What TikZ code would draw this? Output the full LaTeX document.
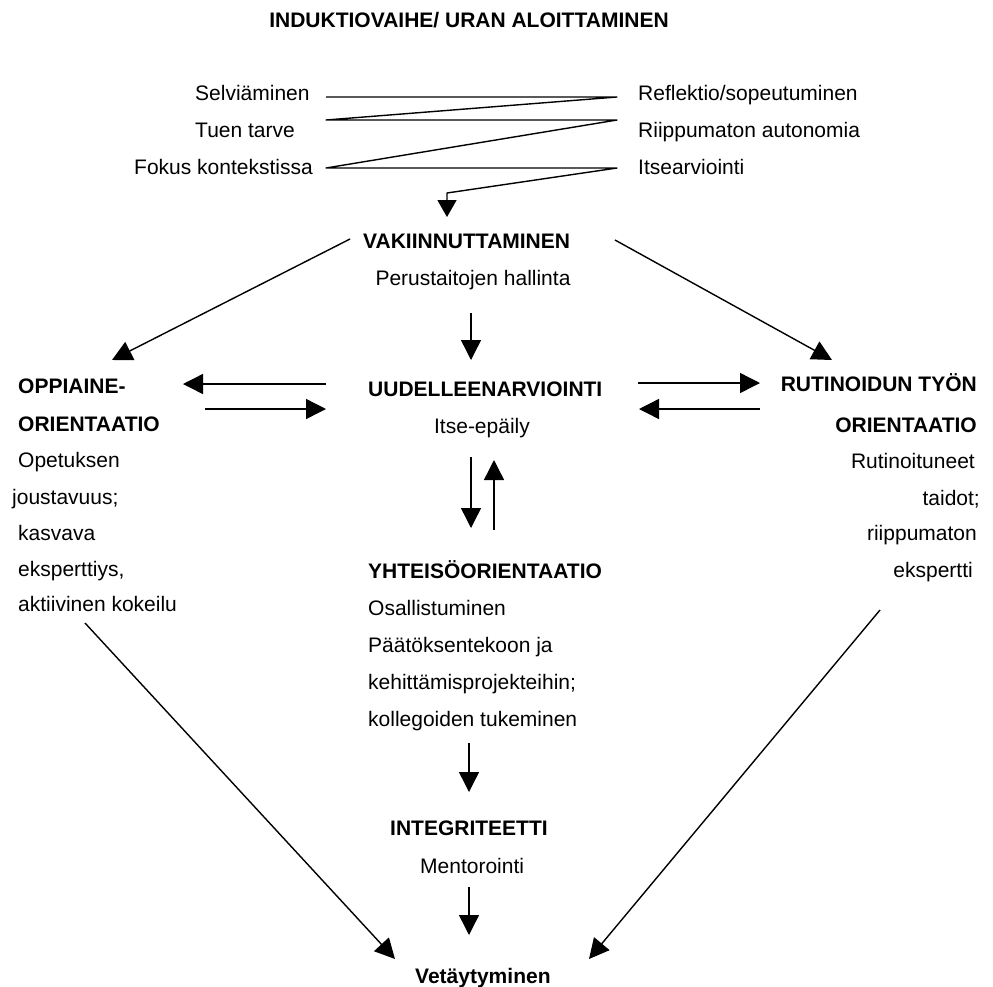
\documentclass[tikz,border=0pt]{standalone}
\usepackage{fontspec}
\setmainfont{Liberation Sans}
\usetikzlibrary{arrows.meta}
\begin{document}
\begin{tikzpicture}[x=1pt,y=-1pt,
  txt/.style={inner sep=0pt, font=\fontsize{21}{25}\selectfont},
  hd/.style={inner sep=0pt, font=\fontsize{21}{25}\selectfont\bfseries},
  conn/.style={line width=1.4pt, line join=round, -{Triangle[length=20pt,width=20pt]}},
]
\useasboundingbox[fill=white] (0,0) rectangle (993,986);
% title
\node[hd, anchor=base] (title) at (469,27) {INDUKTIOVAIHE/ URAN ALOITTAMINEN};
% induction rows
\node[txt, anchor=base west] (s1) at (195,100) {Selviäminen};
\node[txt, anchor=base west] (s2) at (195,137) {Tuen tarve};
\node[txt, anchor=base east] (s3) at (313,174) {Fokus kontekstissa};
\node[txt, anchor=base west] (r1) at (638,100) {Reflektio/sopeutuminen};
\node[txt, anchor=base west] (r2) at (638,137) {Riippumaton autonomia};
\node[txt, anchor=base west] (r3) at (638,174) {Itsearviointi};
% centre column
\node[hd, anchor=base west] (vak) at (363,248) {VAKIINNUTTAMINEN};
\node[txt, anchor=base] (per) at (473,285) {Perustaitojen hallinta};
\node[hd, anchor=base west] (uud) at (368,396) {UUDELLEENARVIOINTI};
\node[txt, anchor=base] (itse) at (482,433) {Itse-epäily};
\node[hd, anchor=base west] (yht) at (368,578) {YHTEISÖORIENTAATIO};
\node[txt, anchor=base west] (osa) at (368,615) {Osallistuminen};
\node[txt, anchor=base west] (paa) at (368,652) {Päätöksentekoon ja};
\node[txt, anchor=base west] (keh) at (368,689) {kehittämisprojekteihin;};
\node[txt, anchor=base west] (kol) at (368,726) {kollegoiden tukeminen};
\node[hd, anchor=base west] (int) at (390,835) {INTEGRITEETTI};
\node[txt, anchor=base west] (men) at (420,873) {Mentorointi};
\node[hd, anchor=base west] (vet) at (415,983) {Vetäytyminen};
% left column
\node[hd, anchor=base west] (opp1) at (18,393) {OPPIAINE-};
\node[hd, anchor=base west] (opp2) at (18,431) {ORIENTAATIO};
\node[txt, anchor=base west] (ope) at (18,467) {Opetuksen};
\node[txt, anchor=base west] (jou) at (12,504) {joustavuus;};
\node[txt, anchor=base west] (kas) at (18,540) {kasvava};
\node[txt, anchor=base west] (eks) at (18,576) {eksperttiys,};
\node[txt, anchor=base west] (akt) at (18,611) {aktiivinen kokeilu};
% right column
\node[hd, anchor=base east] (rut1) at (977,391) {RUTINOIDUN TYÖN};
\node[hd, anchor=base east] (rut2) at (977,432) {ORIENTAATIO};
\node[txt, anchor=base east] (rut3) at (975,468) {Rutinoituneet};
\node[txt, anchor=base east] (rut4) at (980,505) {taidot;};
\node[txt, anchor=base east] (rut5) at (977,540) {riippumaton};
\node[txt, anchor=base east] (rut6) at (973,577) {ekspertti};
% zigzag coordinates
\coordinate (z0) at (326,97);
\coordinate (z1) at (617,97);
\coordinate (z2) at (326,120);
\coordinate (z3) at (617,120);
\coordinate (z4) at (326,168);
\coordinate (z5) at (617,168);
\coordinate (z6) at (447,193);
\coordinate (z7) at (447,217);
\draw[line width=1.4pt, line join=round, -{Triangle[length=17pt,width=19pt]}]
  (z0) -- (z1) -- (z2) -- (z3) -- (z4) -- (z5) -- (z6) -- (z7);
% connector end points
\coordinate (vakL) at (350,239);
\coordinate (oppT) at (112,360);
\coordinate (vakR) at (615,240);
\coordinate (rutT) at (832,360);
\coordinate (vakB) at (471,313);
\coordinate (uudT) at (471,360);
\coordinate (uudLa) at (326,384);
\coordinate (oppRa) at (183,384);
\coordinate (oppRb) at (205,409);
\coordinate (uudLb) at (326,409);
\coordinate (uudRa) at (638,383);
\coordinate (rutLa) at (760,383);
\coordinate (rutLb) at (760,409);
\coordinate (uudRb) at (639,409);
\coordinate (uudBa) at (471,457);
\coordinate (yhtTa) at (471,528);
\coordinate (yhtTb) at (494,530);
\coordinate (uudBb) at (494,460);
\coordinate (yhtB) at (469,743);
\coordinate (intT) at (469,792);
\coordinate (menB) at (469,887);
\coordinate (vetT) at (469,935);
\coordinate (oppB) at (85,623);
\coordinate (vetL) at (395,959);
\coordinate (rutB) at (880,610);
\coordinate (vetR) at (589,959);
% connectors
\draw[conn] (vakL) -- (oppT);
\draw[conn] (vakR) -- (rutT);
\draw[conn] (vakB) -- (uudT);
\draw[conn] (uudLa) -- (oppRa);
\draw[conn] (oppRb) -- (uudLb);
\draw[conn] (uudRa) -- (rutLa);
\draw[conn] (rutLb) -- (uudRb);
\draw[conn] (uudBa) -- (yhtTa);
\draw[conn] (yhtTb) -- (uudBb);
\draw[conn] (yhtB) -- (intT);
\draw[conn] (menB) -- (vetT);
\draw[conn] (oppB) -- (vetL);
\draw[conn] (rutB) -- (vetR);
\end{tikzpicture}
\end{document}
